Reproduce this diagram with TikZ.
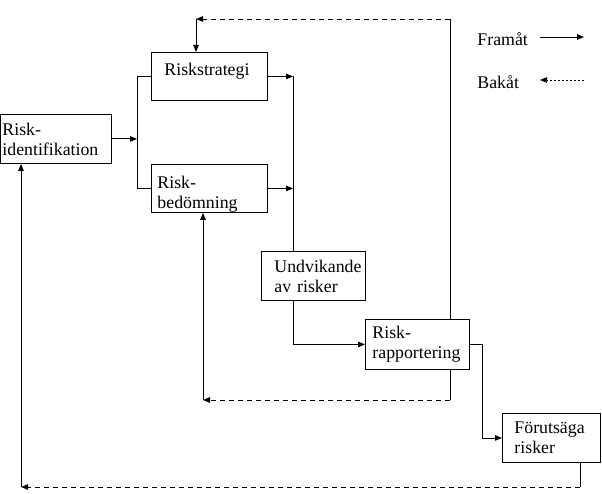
\documentclass[tikz,border=0pt]{standalone}
\usepackage{fontspec}
\setmainfont{Liberation Serif}
\usetikzlibrary{arrows.meta}
\begin{document}
\begin{tikzpicture}[x=1pt,y=-1pt,
  every path/.style={line width=0.9pt},
  box/.style={draw, line width=0.9pt, inner sep=0pt, anchor=north west, align=left,
              font=\fontsize{17.8}{20}\selectfont},
  lbl/.style={inner sep=0pt, anchor=west, font=\fontsize{17.8}{20}\selectfont},
  arr/.style={-{Triangle[length=7pt,width=5.5pt]}},
  dsh/.style={dash pattern=on 5pt off 4pt},
  dot/.style={dash pattern=on 2pt off 2pt}]
\useasboundingbox (0,0) rectangle (602,494);

% boxes
\node[box, minimum width=111, minimum height=49, text width=107] (ri) at (0,114) {Risk-\\identifikation};
\node[box, minimum width=116, minimum height=48, text width=90] (rs) at (151,52) {\rule[-14pt]{0pt}{14pt}Riskstrategi};
\node[box, minimum width=116, minimum height=48, text width=104] (rb) at (151,164) {\rule{0pt}{24pt}Risk-\\bedömning};
\node[box, minimum width=104, minimum height=49, text width=78] (uv) at (261,251) {Undvikande\\av risker};
\node[box, minimum width=104, minimum height=50, text width=90] (rr) at (365,319) {Risk-\\rapportering};
\node[box, minimum width=98, minimum height=49, text width=74] (fs) at (502,413) {Förutsäga\\risker};

% coordinates
\coordinate (bus) at (137,138);
\coordinate (v1) at (293,76);
\coordinate (topR) at (450,19);
\coordinate (topL) at (196,19);
\coordinate (midR) at (450,400);
\coordinate (midL) at (203,400);
\coordinate (botR) at (580,487);
\coordinate (botL) at (21,487);

% forward connections
\draw[arr] (ri.east) -- (ri.east -| bus);
\draw (rs.west) -- (rs.west -| bus) -- (rb.west -| bus) -- (rb.west);
\draw[arr] (rs.east) -- (rs.east -| v1);
\draw[arr] (rb.east) -- (rb.east -| v1);
\draw (v1) -- (v1 |- uv.north);
\draw[arr] (uv.south -| v1) |- (rr.west);
\draw[arr] (rr.east) -- ++(13,0) |- (fs.west);

% backward connections
\draw (rr.north -| topR) -- (topR);
\draw[dsh, arr] (topR) -- (topL);
\draw[arr] (topL) -- (topL |- rs.north);

\draw (rr.south -| midR) -- (midR);
\draw[dsh, arr] (midR) -- (midL);
\draw[arr] (midL) -- (midL |- rb.south);

\draw (fs.south -| botR) -- (botR);
\draw[dsh, arr] (botR) -- (botL);
\draw[arr] (botL) -- (botL |- ri.south);

% legend
\node[lbl] (lf) at (477,39) {Framåt};
\node[lbl] (lb) at (477,82) {Bakåt};
\coordinate (lfa) at (540,37);
\coordinate (lfb) at (584,37);
\coordinate (lba) at (584,80);
\coordinate (lbb) at (540,80);
\draw[arr] (lfa) -- (lfb);
\draw[dot, arr, line width=0.7pt] (lba) -- (lbb);
\end{tikzpicture}
\end{document}
